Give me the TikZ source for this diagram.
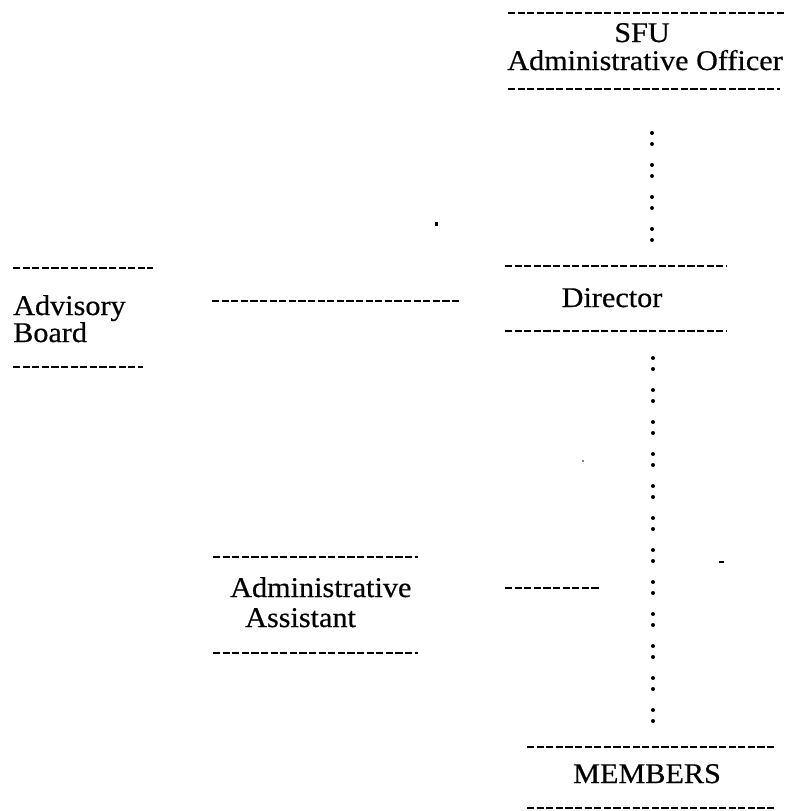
\documentclass[tikz,border=0pt]{standalone}
\usepackage{fontspec}
\setmainfont[FakeStretch=1.06,FakeBold=0.5]{Liberation Serif}
\begin{document}
\begin{tikzpicture}[x=1pt,y=-1pt,
  rule/.style={line width=2.9pt,dash pattern=on 7.2pt off 2.4pt},
  colons/.style={line width=4pt,line cap=round,dash pattern=on 0pt off 11pt on 0pt off 21pt},
  lbl/.style={inner sep=0pt,anchor=base,font=\fontsize{28.5}{30}\selectfont},
  lblw/.style={lbl,anchor=base west},
  speck/.style={fill=black}]
\useasboundingbox (0,0) rectangle (786,811);
% --- SFU Administrative Officer
\coordinate (sfuTL) at (508,13);  \coordinate (sfuTR) at (786,13);
\coordinate (sfuBL) at (508,89);  \coordinate (sfuBR) at (780,89);
\node[lbl] (sfu1) at (642,42) {SFU};
\node[lbl] (sfu2) at (645,70) {Administrative Officer};
\draw[rule] (sfuTL) -- (sfuTR);
\draw[rule] (sfuBL) -- (sfuBR);
% --- Director
\coordinate (dirTL) at (505,266); \coordinate (dirTR) at (727,266);
\coordinate (dirBL) at (505,331); \coordinate (dirBR) at (727,331);
\node[lbl] (dir) at (612,307) {Director};
\draw[rule] (dirTL) -- (dirTR);
\draw[rule] (dirBL) -- (dirBR);
% --- Advisory Board
\coordinate (advTL) at (13,268);  \coordinate (advTR) at (153,268);
\coordinate (advBL) at (13,367);  \coordinate (advBR) at (143,367);
\node[lblw] (adv1) at (13,315) {Advisory};
\node[lblw] (adv2) at (13,342) {Board};
\draw[rule] (advTL) -- (advTR);
\draw[rule] (advBL) -- (advBR);
\coordinate (advC1) at (212,301); \coordinate (advC2) at (460,301);
\draw[rule] (advC1) -- (advC2);
% --- Administrative Assistant
\coordinate (asTL) at (213,557);  \coordinate (asTR) at (418,557);
\coordinate (asBL) at (213,653);  \coordinate (asBR) at (418,653);
\node[lblw] (as1) at (230,597) {Administrative};
\node[lblw] (as2) at (245,627) {Assistant};
\draw[rule] (asTL) -- (asTR);
\draw[rule] (asBL) -- (asBR);
\coordinate (asC1) at (505,588); \coordinate (asC2) at (599,588);
\draw[rule] (asC1) -- (asC2);
% --- Members
\coordinate (memTL) at (527,747); \coordinate (memTR) at (775,747);
\coordinate (memBL) at (527,808); \coordinate (memBR) at (775,808);
\node[lbl] (mem) at (647,783) {MEMBERS};
\draw[rule] (memTL) -- (memTR);
\draw[rule] (memBL) -- (memBR);
% --- dotted (colon) links
\coordinate (up1) at (652,133); \coordinate (up2) at (652,241);
\draw[colons] (up1) -- (up2);
\coordinate (lo1) at (653,358); \coordinate (lo2) at (653,723);
\draw[colons] (lo1) -- (lo2);
% --- specks
\fill[speck] (435,222) rectangle (437.5,226);
\fill[speck] (583,461) circle (0.9);
\fill[speck] (719,561) rectangle (724,563);
\end{tikzpicture}
\end{document}
